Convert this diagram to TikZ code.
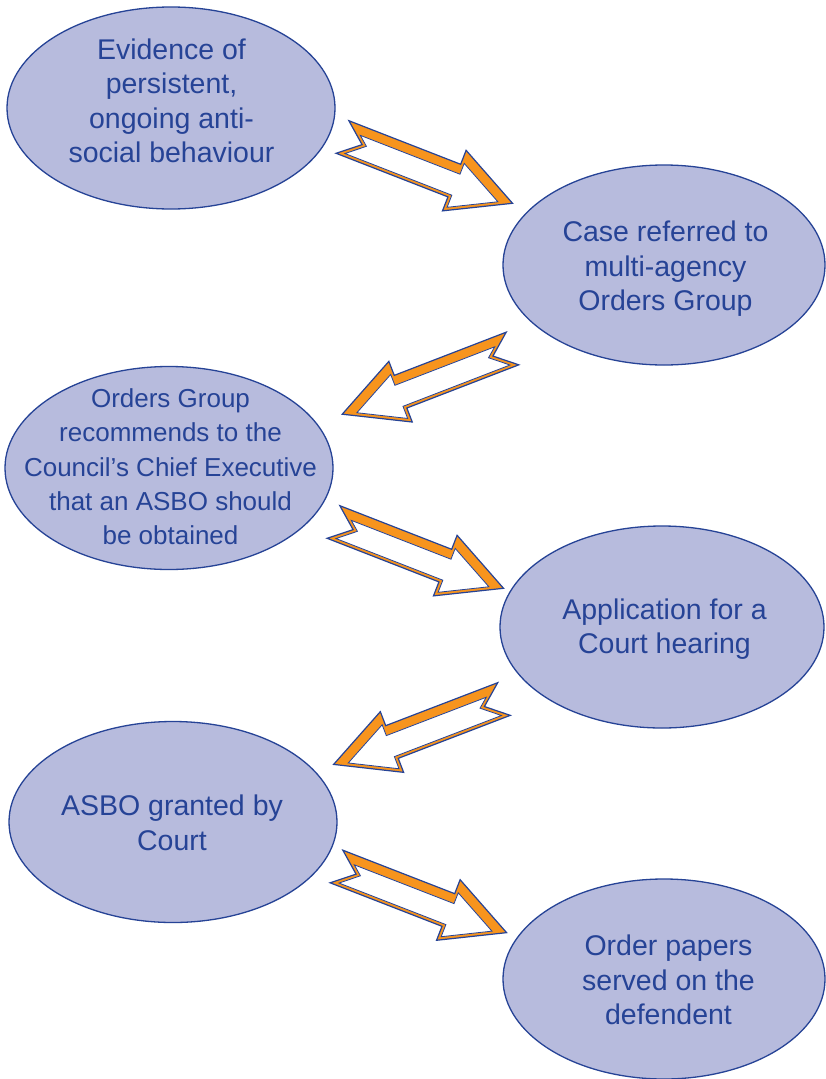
\documentclass[tikz,border=0pt]{standalone}
\usepackage{fontspec}
\setmainfont{Liberation Sans}
\usetikzlibrary{shapes.geometric}
\definecolor{bubblefill}{RGB}{183,187,221}
\definecolor{darkblue}{RGB}{38,67,150}
\definecolor{arrorange}{RGB}{247,148,29}
\tikzset{
  bubble/.style={ellipse, draw=darkblue, line width=1.3pt, fill=bubblefill, inner sep=0pt},
  txt/.style={text=darkblue, align=center, inner sep=0pt, font=\fontsize{28.5}{34.5}\selectfont},
  txtsmall/.style={txt, font=\fontsize{26}{34.3}\selectfont},
  arrowline/.style={draw=darkblue, line width=1.2pt, line join=miter},
  bigarrow/.pic={
    \draw[arrowline, fill=arrorange] (0,17.5) -- (21,0) -- (0,-17.5) -- (120,-17.5) -- (120,-32.5)
      -- (182.5,0) -- (120,32.5) -- (120,17.5) -- cycle;
    \draw[arrowline, fill=white, line width=0.8pt] (16,8) -- (25.7,0) -- (8.3,-14.5) -- (123,-14.5)
      -- (123,-27.5) -- (168.3,-3.9) -- (123,19.6) -- (123,8) -- cycle;
  }
}
\begin{document}
\begin{tikzpicture}[x=1pt,y=1pt]
\useasboundingbox (0,0) rectangle (825,-1079);
\fill[white] (0,0) rectangle (825,-1079);

% bubbles
\node[bubble, minimum width=328pt, minimum height=202pt] (e1) at (171,-108) {};
\node[bubble, minimum width=322pt, minimum height=200pt] (e2) at (664,-265) {};
\node[bubble, minimum width=328pt, minimum height=203pt] (e3) at (169,-468) {};
\node[bubble, minimum width=324pt, minimum height=202pt] (e4) at (662,-627) {};
\node[bubble, minimum width=328pt, minimum height=201pt] (e5) at (173,-822) {};
\node[bubble, minimum width=322pt, minimum height=200pt] (e6) at (664,-979) {};

% texts
\node[txt] (t1) at (171.5,-101) {Evidence of\\persistent,\\ongoing anti-\\social behaviour};
\node[txt] (t2) at (665.5,-268.7) {Case referred to\\multi-agency\\Orders Group};
\node[txtsmall] (t3) at (170.5,-467) {Orders Group\\recommends to the\\Council’s Chief Executive\\that an ASBO should\\be obtained};
\node[txt] (t4) at (664.5,-629) {Application for a\\Court hearing};
\node[txt] (t5) at (172,-823) {ASBO granted by\\Court};
\node[txt] (t6) at (668.5,-980) {Order papers\\served on the\\defendent};

% block arrows
\coordinate (a1) at (342.5,-137);
\coordinate (a2) at (512.5,-348.5);
\coordinate (a3) at (333.5,-522);
\coordinate (a4) at (504,-699);
\coordinate (a5) at (336.5,-866.5);
\path (a1) pic[rotate=-21.3] {bigarrow};
\path (a2) pic[rotate=21.1, xscale=-1] {bigarrow};
\path (a3) pic[rotate=-21.3] {bigarrow};
\path (a4) pic[rotate=21.0, xscale=-1] {bigarrow};
\path (a5) pic[rotate=-21.25] {bigarrow};
\end{tikzpicture}
\end{document}
